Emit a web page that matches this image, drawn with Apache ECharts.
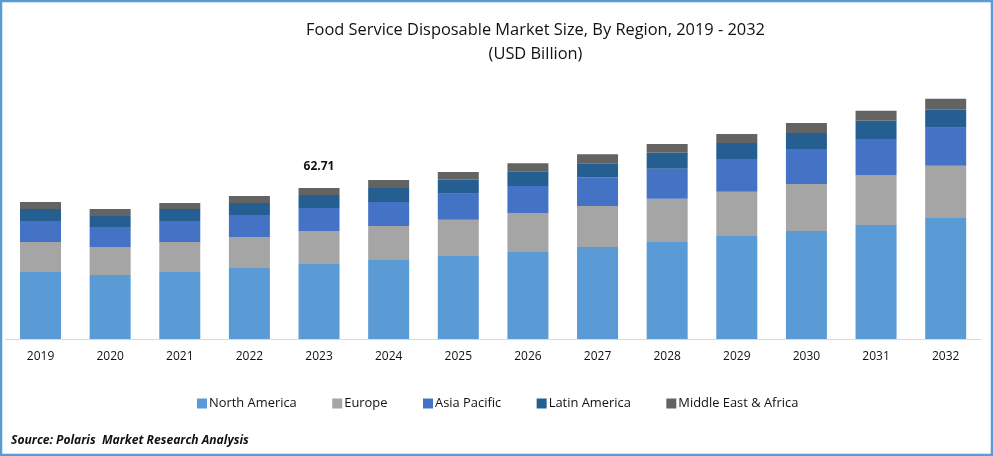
<!DOCTYPE html>
<html>
<head>
<meta charset="utf-8">
<title>Food Service Disposable Market Size</title>
<style>
  html, body { margin: 0; padding: 0; background: #fff; }
  #main { width: 993px; height: 456px; }
</style>
<script src="https://cdn.jsdelivr.net/npm/echarts@6/dist/echarts.min.js"></script>
</head>
<body>
<div id="main"></div>
<script>
const years = ['2019', '2020', '2021', '2022', '2023', '2024', '2025', '2026', '2027', '2028', '2029', '2030', '2031', '2032'];
const northAmerica = [27.8, 26.6, 27.8, 29.5, 31.15, 32.8, 34.5, 36.1, 38.2, 40.3, 42.8, 44.9, 47.3, 50.3];
const europe = [12.5, 11.6, 12.5, 12.9, 13.7, 14.1, 15.0, 16.2, 17.0, 17.9, 18.3, 19.5, 20.8, 21.6];
const asiaPacific = [8.7, 8.3, 8.7, 9.1, 9.55, 10.0, 10.8, 11.2, 12.0, 12.5, 13.7, 14.5, 15.0, 15.8];
const latinAmerica = [5.0, 4.6, 5.0, 5.0, 5.4, 5.8, 5.8, 6.2, 5.8, 6.6, 6.6, 6.6, 7.5, 7.5];
const middleEast = [2.9, 2.9, 2.5, 2.9, 2.91, 3.3, 3.3, 3.3, 3.7, 3.7, 3.7, 4.2, 4.2, 4.6];
const labelledYear = '2023';
const labelledTotal = '62.71';

const font = '"Open Sans", "Noto Sans", sans-serif';
const textColor = '#111';

const makeSeries = (name, data, color) => ({
    name: name,
    type: 'bar',
    stack: 'total',
    barWidth: 41,
    data: data,
    itemStyle: { color: color }
});

const series = [
    makeSeries('North America', northAmerica, '#5b9bd5'),
    makeSeries('Europe', europe, '#a5a5a5'),
    makeSeries('Asia Pacific', asiaPacific, '#4472c4'),
    makeSeries('Latin America', latinAmerica, '#255e91'),
    makeSeries('Middle East & Africa', middleEast, '#636363')
];

// only the 2023 total gets a label, on top of the last stack
series[4].label = {
    show: true,
    position: 'top',
    distance: 15,
    fontFamily: font,
    fontSize: 12,
    fontWeight: 'bold',
    color: textColor,
    formatter: (p) => (p.name === labelledYear ? labelledTotal : '')
};

const chart = echarts.init(document.getElementById('main'), null, { renderer: 'canvas' });

chart.setOption({
    animation: false,
    backgroundColor: '#fff',
    title: [
        {
            text: 'Food Service Disposable Market Size, By Region, 2019 - 2032\n(USD Billion)',
            left: 530.5,
            top: 13,
            textAlign: 'center',
            textStyle: { fontFamily: font, fontSize: 16.4, fontWeight: 'normal', color: textColor, lineHeight: 24 }
        },
        {
            text: 'Source: Polaris  Market Research Analysis',
            left: 6,
            top: 430,
            textStyle: { fontFamily: font, fontSize: 12.1, fontWeight: 'bold', fontStyle: 'italic', color: textColor }
        }
    ],
    legend: {
        top: 392,
        left: 192,
        itemWidth: 10,
        itemHeight: 10,
        itemGap: 35.5,
        icon: 'rect',
        textStyle: { fontFamily: font, fontSize: 12.9, color: textColor, padding: [0, 0, 0, -3] }
    },
    grid: { left: 5.7, width: 974.8, top: 98.2, height: 240.8 },
    xAxis: {
        type: 'category',
        data: years,
        axisLine: { lineStyle: { color: '#d9d9d9', width: 1 } },
        axisTick: { show: false },
        axisLabel: { fontFamily: font, fontSize: 12, color: textColor, margin: 12 }
    },
    yAxis: { type: 'value', min: 0, max: 100, show: false, splitLine: { show: false } },
    series: series,
    graphic: [{
        type: 'rect',
        shape: { x: 1, y: 1, width: 991, height: 454 },
        style: { fill: 'none', stroke: '#5b9bd5', lineWidth: 2.5 },
        silent: true
    }]
});
</script>
</body>
</html>
